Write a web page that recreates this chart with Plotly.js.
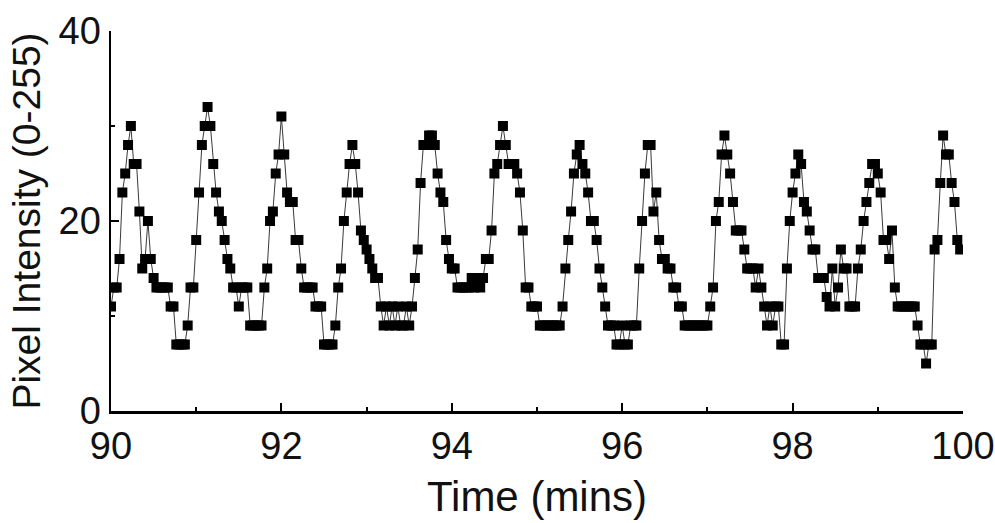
<!DOCTYPE html>
<html>
<head>
<meta charset="utf-8">
<script src="https://cdn.plot.ly/plotly-3.0.1.min.js"></script>
<style>
  html, body { margin: 0; padding: 0; background: #ffffff; }
  #chart { width: 995px; height: 523px; }
</style>
</head>
<body>
<div id="chart"></div>
<script>
// Sampling grid: one frame every 2 s, starting at 90 min
const startMin = 90;
const stepMin = 1 / 30;

// Pixel intensity (0-255), one row per minute (30 samples)
const intensity = [
  11,13,13,16,23,25,28,30,26,26,21,15,16,20,16,14,13,13,13,13,13,11,11,7,7,7,7,9,13,13,
  18,23,28,30,32,30,26,23,21,20,18,16,15,13,13,11,13,13,13,9,9,9,9,9,13,15,20,21,25,27,
  31,27,23,22,22,18,18,15,13,13,13,13,11,11,11,7,7,7,7,9,13,15,20,23,26,28,26,23,19,18,
  17,16,15,14,14,11,9,11,9,11,9,11,9,9,11,9,11,14,17,24,28,28,29,29,28,25,23,22,18,16,
  15,15,13,13,13,13,13,14,13,14,13,14,16,16,19,25,26,28,30,28,26,26,26,25,23,19,13,13,11,11,
  11,9,9,9,9,9,9,9,9,11,15,18,21,25,27,28,26,25,23,20,20,18,15,13,11,9,9,9,7,7,
  9,7,7,9,9,9,15,20,25,28,28,21,23,18,16,16,15,15,13,13,11,11,9,9,9,9,9,9,9,9,
  9,11,13,20,22,27,29,27,25,22,19,19,19,17,15,15,15,13,15,13,11,9,11,9,11,11,7,7,15,20,
  23,25,27,26,22,21,19,17,17,14,14,14,12,11,15,11,13,17,15,15,11,11,11,15,17,20,22,24,26,26,
  25,23,18,18,16,19,13,11,11,11,11,11,11,11,9,7,7,5,7,7,17,18,24,29,27,27,24,22,18,17
];

const timeMin = intensity.map((_, i) => startMin + i * stepMin);

const xTickVals = [90, 92, 94, 96, 98, 100];
const xTickText = ['90', '92', '94', '96', '98', '100'];
const yTickVals = [0, 20, 40];
const yTickText = ['0', '20', '40'];

const FONT = 'Liberation Sans, Arial, Helvetica, sans-serif';

const trace = {
  x: timeMin,
  y: intensity,
  type: 'scatter',
  mode: 'lines+markers',
  line: { color: '#3a3a3a', width: 1 },
  marker: { symbol: 'square', size: 10, color: '#000000', line: { width: 0 } },
  hoverinfo: 'x+y',
  showlegend: false
};

const layout = {
  width: 995,
  height: 523,
  margin: { l: 111, r: 32, t: 31, b: 112, pad: 0 },
  paper_bgcolor: '#ffffff',
  plot_bgcolor: '#ffffff',
  font: { family: FONT, color: '#111111' },
  xaxis: {
    range: [90, 100],
    tickmode: 'array',
    tickvals: xTickVals,
    ticktext: xTickText,
    ticks: 'inside',
    ticklen: 8,
    tickwidth: 2,
    tickcolor: '#000000',
    minor: { dtick: 1, tick0: 90, ticks: 'inside', ticklen: 4, tickwidth: 2, tickcolor: '#000000', showgrid: false },
    showline: true,
    linecolor: '#000000',
    linewidth: 2.5,
    showgrid: false,
    zeroline: false,
    automargin: false,
    tickfont: { family: FONT, size: 38, color: '#111111' },
    title: { text: 'Time (mins)', font: { family: FONT, size: 42, color: '#111111' }, standoff: 16 }
  },
  yaxis: {
    range: [0, 40],
    tickmode: 'array',
    tickvals: yTickVals,
    ticktext: yTickText,
    ticks: 'inside',
    ticklen: 8,
    tickwidth: 2,
    tickcolor: '#000000',
    minor: { dtick: 10, tick0: 0, ticks: 'inside', ticklen: 4, tickwidth: 2, tickcolor: '#000000', showgrid: false },
    showline: true,
    linecolor: '#000000',
    linewidth: 2.5,
    showgrid: false,
    zeroline: false,
    automargin: false,
    tickfont: { family: FONT, size: 38, color: '#111111' },
    title: { text: 'Pixel Intensity (0-255)', font: { family: FONT, size: 39, color: '#111111' }, standoff: 6 }
  }
};

Plotly.newPlot('chart', [trace], layout, { staticPlot: true, displayModeBar: false });
</script>
</body>
</html>
